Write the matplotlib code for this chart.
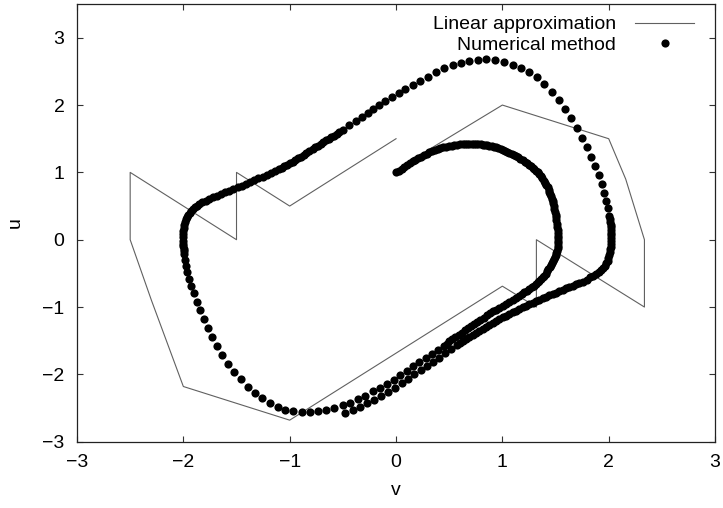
import matplotlib
matplotlib.use("Agg")
import matplotlib.pyplot as plt

plt.rcParams['font.family'] = ['Liberation Sans', 'DejaVu Sans']

# piecewise linear approximation (vertices)
lin_v = [0.30, 1.00, 2.00, 2.16, 2.336, 2.336, 1.32, 1.32, 1.00, -1.00,
         -2.00, -2.30, -2.50, -2.50, -1.50, -1.50, -1.00, 0.00]
lin_u = [1.33, 2.00, 1.50, 0.90, 0.00, -1.00, 0.00, -1.00, -0.69, -2.68,
         -2.18, -0.90, 0.00, 1.00, 0.00, 1.00, 0.50, 1.50]

# numerical solution, one value per drawn dot (in time order)
num_v = [
    # inner arc from the start point (dense)
    0.000, 0.026, 0.052, 0.078, 0.104, 0.130, 0.156, 0.182, 0.208, 0.234,
    0.260, 0.287, 0.313, 0.339, 0.365, 0.392, 0.418, 0.444, 0.470, 0.496,
    0.522, 0.549, 0.575, 0.601, 0.627, 0.648, 0.669, 0.690, 0.711, 0.732,
    0.753, 0.774, 0.795, 0.816, 0.836, 0.857, 0.878, 0.899, 0.920, 0.941,
    0.962, 0.983, 1.003, 1.024, 1.045, 1.066, 1.087, 1.108, 1.129, 1.150,
    1.170, 1.191, 1.212, 1.233, 1.254, 1.270, 1.285, 1.301, 1.317, 1.333,
    1.348, 1.361, 1.374, 1.387, 1.400, 1.413, 1.426, 1.434, 1.442, 1.450,
    1.458, 1.466, 1.473, 1.479, 1.484, 1.490, 1.495, 1.500, 1.505, 1.509,
    1.513, 1.517, 1.520, 1.524, 1.527, 1.526, 1.524, 1.522, 1.520, 1.519,
    1.517, 1.509, 1.501, 1.494, 1.486, 1.478, 1.470, 1.458, 1.445, 1.433,
    1.420, 1.408, 1.395, 1.380, 1.364, 1.348, 1.332, 1.317, 1.301, 1.278,
    1.254, 1.231, 1.207, 1.184, 1.160, 1.129, 1.097, 1.066, 1.035, 1.004,
    0.972,
    0.944, 0.915, 0.887, 0.859, 0.826, 0.793, 0.765, 0.737, 0.707, 0.677,
    0.647, 0.617, 0.588, 0.558, 0.530, 0.501, 0.475, 0.448,
    # lower left swing
    0.395, 0.339, 0.282, 0.219, 0.163, 0.100, 0.040, -0.023, -0.088, -0.151,
    -0.220, -0.289, -0.357, -0.433, -0.502, -0.583, -0.659, -0.731, -0.809, -0.884,
    -0.966, -1.044, -1.114, -1.185, -1.261, -1.330, -1.396, -1.462, -1.521, -1.580,
    -1.637, -1.688, -1.731, -1.772, -1.810, -1.844, -1.876, -1.904, -1.928, -1.951,
    -1.966, -1.976, -1.985, -1.992,
    # left bend (dense)
    -1.994, -1.996, -1.999, -2.001, -2.001, -2.001, -2.001, -2.001, -1.997, -1.992,
    -1.984, -1.976, -1.965, -1.954, -1.942, -1.929, -1.911, -1.893, -1.872, -1.850,
    -1.820, -1.789, -1.757, -1.725, -1.687, -1.648, -1.608, -1.568, -1.529, -1.490,
    -1.451, -1.411, -1.372, -1.333, -1.294, -1.255, -1.216, -1.177, -1.138, -1.098,
    -1.075, -1.051, -1.025, -0.999, -0.973, -0.947, -0.922, -0.896, -0.870, -0.844,
    -0.815, -0.785, -0.761, -0.736, -0.710, -0.684, -0.658, -0.632, -0.608, -0.583,
    -0.558, -0.533,
    # upper swing
    -0.502, -0.439, -0.376, -0.320, -0.267, -0.214, -0.157, -0.101, -0.038, 0.025,
    0.087, 0.156, 0.226, 0.297, 0.376, 0.454, 0.532, 0.611, 0.690, 0.768,
    0.847, 0.934, 1.019, 1.097, 1.176, 1.247, 1.323, 1.395, 1.464, 1.530,
    1.593, 1.649, 1.703, 1.750, 1.797, 1.837, 1.875, 1.908, 1.934, 1.960,
    1.976, 1.991, 2.007,
    # right bend (dense)
    2.012, 2.016, 2.020, 2.023, 2.024, 2.025, 2.025, 2.025, 2.025, 2.025,
    2.021, 2.016, 2.011, 2.005, 1.998, 1.991, 1.978, 1.964, 1.948, 1.931,
    1.908, 1.884, 1.856, 1.828, 1.792, 1.755, 1.723, 1.691, 1.661, 1.630,
    1.599, 1.567, 1.535, 1.503, 1.473, 1.442, 1.411, 1.379, 1.348, 1.317,
    1.286, 1.254, 1.223, 1.191, 1.160, 1.129, 1.098, 1.066, 1.035, 1.003,
    0.972, 0.941, 0.910, 0.878, 0.847, 0.815, 0.784, 0.753, 0.722, 0.690,
    0.662, 0.633,
    # last stretch
    0.600, 0.572, 0.516, 0.459, 0.403, 0.346, 0.290, 0.233, 0.172, 0.113,
    0.053, -0.009, -0.072, -0.138, -0.204, -0.270, -0.336, -0.406, -0.477,
]
num_u = [
    1.000, 1.028, 1.055, 1.083, 1.110, 1.137, 1.163, 1.187, 1.210, 1.233,
    1.255, 1.276, 1.297, 1.312, 1.327, 1.342, 1.357, 1.370, 1.382, 1.390,
    1.398, 1.405, 1.412, 1.417, 1.422, 1.424, 1.425, 1.425, 1.425, 1.424,
    1.422, 1.419, 1.416, 1.412, 1.408, 1.403, 1.397, 1.389, 1.380, 1.370,
    1.360, 1.349, 1.337, 1.324, 1.310, 1.295, 1.280, 1.264, 1.248, 1.227,
    1.205, 1.183, 1.160, 1.137, 1.114, 1.091, 1.068, 1.045, 1.022, 0.999,
    0.976, 0.943, 0.910, 0.877, 0.843, 0.810, 0.777, 0.744, 0.711, 0.678,
    0.645, 0.612, 0.579, 0.538, 0.496, 0.455, 0.414, 0.373, 0.331, 0.286,
    0.240, 0.195, 0.150, 0.105, 0.059, 0.022, -0.015, -0.052, -0.089, -0.126,
    -0.163, -0.193, -0.223, -0.253, -0.283, -0.313, -0.342, -0.374, -0.406, -0.438,
    -0.470, -0.503, -0.535, -0.560, -0.585, -0.610, -0.634, -0.659, -0.684, -0.709,
    -0.733, -0.758, -0.783, -0.808, -0.832, -0.862, -0.891, -0.921, -0.951, -0.981,
    -1.010,
    -1.038, -1.065, -1.095, -1.125, -1.157, -1.189, -1.219, -1.248, -1.280, -1.312,
    -1.347, -1.382, -1.417, -1.452, -1.482, -1.511, -1.543, -1.575,
    -1.634, -1.698, -1.758, -1.823, -1.883, -1.947, -2.011, -2.077, -2.137, -2.195,
    -2.254, -2.314, -2.363, -2.418, -2.462, -2.496, -2.526, -2.551, -2.566, -2.566,
    -2.551, -2.526, -2.481, -2.432, -2.358, -2.278, -2.184, -2.076, -1.966, -1.842,
    -1.713, -1.579, -1.446, -1.312, -1.178, -1.051, -0.921, -0.798, -0.684, -0.579,
    -0.480, -0.386, -0.297, -0.212,
    -0.173, -0.134, -0.099, -0.064, -0.015, 0.034, 0.084, 0.134, 0.179, 0.223,
    0.266, 0.308, 0.340, 0.371, 0.401, 0.431, 0.457, 0.483, 0.507, 0.530,
    0.555, 0.579, 0.604, 0.629, 0.654, 0.679, 0.704, 0.728, 0.753, 0.777,
    0.803, 0.828, 0.856, 0.883, 0.910, 0.936, 0.965, 0.993, 1.022, 1.051,
    1.072, 1.092, 1.115, 1.137, 1.161, 1.184, 1.209, 1.233, 1.259, 1.285,
    1.317, 1.348, 1.373, 1.397, 1.423, 1.449, 1.474, 1.498, 1.522, 1.545,
    1.570, 1.594,
    1.630, 1.698, 1.768, 1.828, 1.887, 1.942, 2.001, 2.055, 2.114, 2.180,
    2.239, 2.303, 2.363, 2.422, 2.492, 2.551, 2.596, 2.630, 2.660, 2.675,
    2.679, 2.670, 2.645, 2.600, 2.551, 2.486, 2.412, 2.314, 2.199, 2.076,
    1.942, 1.802, 1.660, 1.511, 1.371, 1.229, 1.092, 0.958, 0.828, 0.694,
    0.579, 0.471, 0.357,
    0.312, 0.267, 0.225, 0.183, 0.144, 0.104, 0.063, 0.022, -0.021, -0.064,
    -0.103, -0.141, -0.182, -0.223, -0.268, -0.312, -0.349, -0.386, -0.420, -0.453,
    -0.482, -0.510, -0.534, -0.557, -0.591, -0.624, -0.643, -0.661, -0.680, -0.698,
    -0.721, -0.743, -0.766, -0.788, -0.807, -0.825, -0.847, -0.869, -0.892, -0.914,
    -0.936, -0.958, -0.981, -1.003, -1.029, -1.055, -1.080, -1.104, -1.130, -1.155,
    -1.183, -1.211, -1.237, -1.263, -1.293, -1.322, -1.352, -1.382, -1.412, -1.441,
    -1.471, -1.501,
    -1.533, -1.565, -1.627, -1.689, -1.753, -1.813, -1.872, -1.936, -2.001, -2.065,
    -2.132, -2.195, -2.259, -2.318, -2.377, -2.432, -2.481, -2.526, -2.581,
]
assert len(num_v) == len(num_u), (len(num_v), len(num_u))

x_ticks = [-3, -2, -1, 0, 1, 2, 3]
y_ticks = [-3, -2, -1, 0, 1, 2, 3]

fig = plt.figure(figsize=(7.23, 5.08), dpi=100)
ax = fig.add_axes([0.1065, 0.1305, 0.8825, 0.8615])

ax.plot(lin_v, lin_u, color='#606060', lw=0.8, label='Linear approximation')
ax.plot(num_v, num_u, 'o', color='black', ms=5.9, mew=0, label='Numerical method')

ax.set_xlim(-3, 3)
ax.set_ylim(-3, 3.5)
ax.set_xticks(x_ticks)
ax.set_yticks(y_ticks)
ax.tick_params(direction='in', length=4.5, width=0.8, top=True, right=True,
               labelsize=14, pad=9, color='#333333')
for s in ax.spines.values():
    s.set_linewidth(0.9)
    s.set_color('#222222')

ax.set_xlabel('v', fontsize=14, labelpad=8)
ax.set_ylabel('u', fontsize=14, labelpad=13)

ax.legend(loc='upper right', bbox_to_anchor=(0.985, 1.0), frameon=False,
          markerfirst=False, fontsize=14, handlelength=3.0, handletextpad=1.0,
          labelspacing=0.15, borderaxespad=0.2)

fig.savefig('out.png', dpi=100)
